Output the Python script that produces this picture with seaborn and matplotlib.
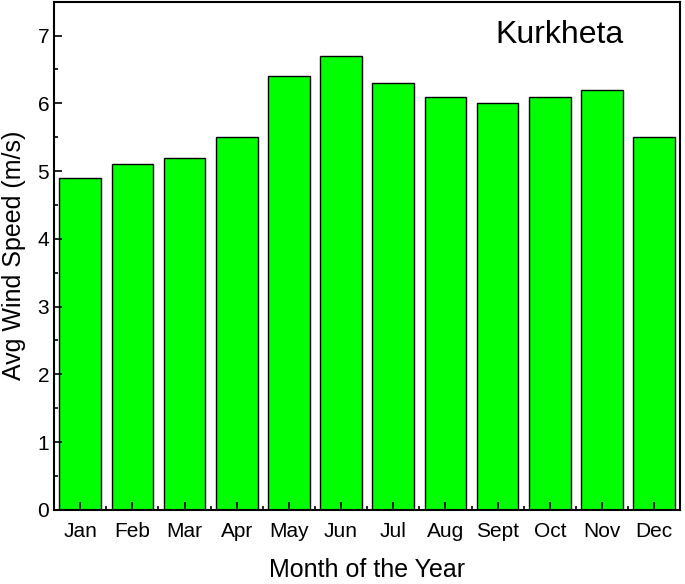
import matplotlib
matplotlib.use("Agg")
import matplotlib.pyplot as plt
import seaborn as sns
import pandas as pd
from matplotlib.ticker import MultipleLocator, FixedLocator

months = ['Jan', 'Feb', 'Mar', 'Apr', 'May', 'Jun', 'Jul', 'Aug', 'Sept', 'Oct', 'Nov', 'Dec']
speed = [4.9, 5.1, 5.2, 5.5, 6.4, 6.7, 6.3, 6.1, 6.0, 6.1, 6.2, 5.5]

df = pd.DataFrame({'month': months, 'speed': speed})

sns.set_style('ticks')
plt.rcParams['font.family'] = ['Liberation Sans', 'DejaVu Sans']
plt.rcParams['text.color'] = 'black'
plt.rcParams['axes.labelcolor'] = 'black'
plt.rcParams['xtick.color'] = 'black'
plt.rcParams['ytick.color'] = 'black'

fig = plt.figure(figsize=(6.85, 5.84), dpi=100)
ax = fig.add_axes([0.079, 0.127, 0.914, 0.870])

sns.barplot(data=df, x='month', y='speed', color='#00ff00', saturation=1,
            edgecolor='black', linewidth=1, width=0.8, ax=ax)
ax.set_axisbelow(False)

ax.set_xlim(-0.5, len(months) - 0.5)
ax.set_ylim(0, 7.5)
ax.yaxis.set_major_locator(MultipleLocator(1))
ax.yaxis.set_minor_locator(MultipleLocator(0.5))
ax.xaxis.set_minor_locator(FixedLocator([i + 0.5 for i in range(len(months) - 1)]))

ax.tick_params(axis='both', which='both', direction='in', top=False, right=False)
ax.tick_params(axis='both', which='major', length=6, width=1.2, labelsize=15)
ax.tick_params(axis='both', which='minor', length=3, width=1.2)
ax.tick_params(axis='x', which='major', pad=9)

for s in ax.spines.values():
    s.set_linewidth(1.5)
    s.set_color('black')

ax.set_xlabel('Month of the Year', fontsize=18, labelpad=12)
ax.set_ylabel('Avg Wind Speed (m/s)', fontsize=18, labelpad=8)
ax.text(0.808, 0.935, 'Kurkheta', transform=ax.transAxes, ha='center', va='center', fontsize=23)

fig.savefig('out.png', dpi=100)
